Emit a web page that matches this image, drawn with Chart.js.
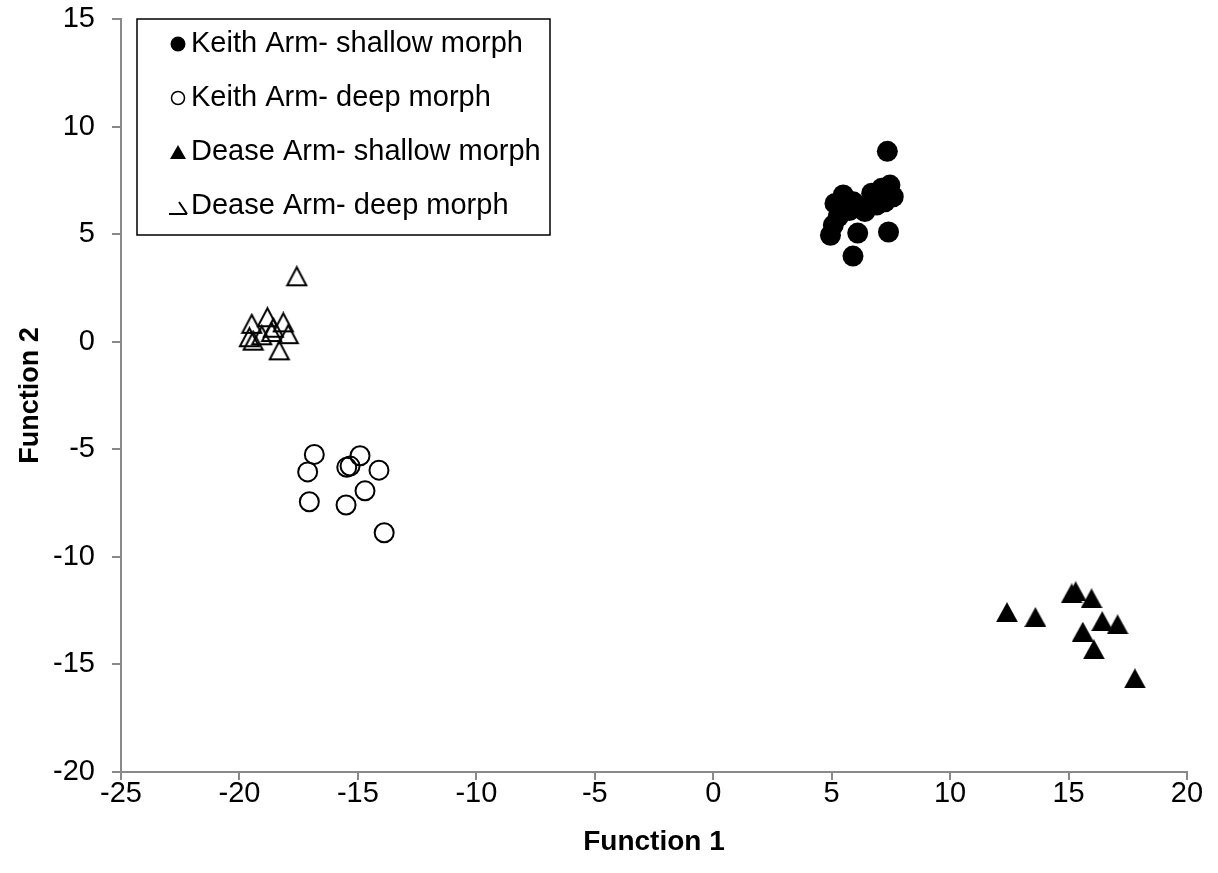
<!DOCTYPE html>
<html>
<head>
<meta charset="utf-8">
<script src="https://cdn.jsdelivr.net/npm/chart.js@4.4.1/dist/chart.umd.min.js"></script>
<style>
  html, body { margin: 0; padding: 0; background: #fff; }
  #wrap { width: 1218px; height: 873px; }
</style>
</head>
<body>
<div id="wrap"><canvas id="chart" width="1218" height="873"></canvas></div>
<script>
// discriminant scores, [function 1, function 2]
const keithShallow = [
  [4.95, 4.95], [5.07, 5.42], [5.14, 6.43], [5.28, 5.81], [5.4, 6.0], [5.49, 6.82],
  [5.63, 6.35], [5.75, 6.1], [5.91, 6.5], [5.9, 3.98], [6.1, 5.05], [6.19, 6.27],
  [6.4, 6.05], [6.61, 6.5], [6.69, 6.9], [6.9, 6.35], [7.11, 7.13], [7.25, 6.5],
  [7.46, 7.28], [7.6, 6.74], [7.35, 8.85], [7.4, 5.1]
];
const keithDeep = [
  [-16.84, -5.24], [-17.12, -6.05], [-14.91, -5.3], [-15.33, -5.78], [-15.47, -5.84],
  [-14.11, -5.97], [-14.7, -6.93], [-17.05, -7.44], [-15.5, -7.59], [-13.89, -8.88]
];
const deaseShallow = [
  [12.4, -12.57], [13.6, -12.8], [15.13, -11.7], [15.3, -11.6], [15.97, -11.93],
  [16.42, -12.99], [17.07, -13.14], [15.6, -13.48], [16.07, -14.3], [17.8, -15.65]
];
const deaseDeep = [
  [-17.58, 3.04], [-19.48, 0.83], [-18.82, 1.14], [-18.15, 0.9], [-19.58, 0.21],
  [-19.42, 0.05], [-19.06, 0.3], [-18.64, 0.45], [-18.57, 0.65], [-17.94, 0.35],
  [-18.32, -0.4]
];
const seriesNames = [
  'Keith Arm- shallow morph',
  'Keith Arm- deep morph',
  'Dease Arm- shallow morph',
  'Dease Arm- deep morph'
];
const xRange = [-25, 20];
const yRange = [-20, 15];
const tickStep = 5;

const FONT = '"Liberation Sans", Arial, sans-serif';
const AXIS_GREY = '#898989';

// triangle drawn centred on its bounding box
function triangleMarker(w, h, filled, lw) {
  const pad = Math.ceil(lw || 0);
  const c = document.createElement('canvas');
  c.width = w + pad * 2;
  c.height = h + pad * 2;
  const g = c.getContext('2d');
  g.beginPath();
  g.moveTo(c.width / 2, pad);
  g.lineTo(c.width - pad, pad + h);
  g.lineTo(pad, pad + h);
  g.closePath();
  if (filled) {
    g.fillStyle = '#000';
    g.fill();
  } else {
    g.lineWidth = lw;
    g.strokeStyle = '#000';
    g.stroke();
  }
  return c;
}

const toXY = arr => arr.map(p => ({ x: p[0], y: p[1] }));

// boxed legend in the top-left corner of the plot
const boxLegend = {
  id: 'boxLegend',
  afterDatasetsDraw(chart) {
    const ctx = chart.ctx;
    const left = 137, top = 19, bottom = 235;
    const rows = [44, 98, 152, 206];
    const markX = 178, textX = 191;
    ctx.save();
    ctx.font = '29px ' + FONT;
    let maxW = 0;
    seriesNames.forEach(n => { maxW = Math.max(maxW, ctx.measureText(n).width); });
    const right = Math.round(textX + maxW + 9);
    ctx.fillStyle = '#fff';
    ctx.fillRect(left, top, right - left, bottom - top);
    ctx.strokeStyle = '#000';
    ctx.lineWidth = 1.5;
    ctx.strokeRect(left, top, right - left, bottom - top);

    // markers
    ctx.fillStyle = '#000';
    ctx.beginPath();
    ctx.arc(markX, rows[0], 7.5, 0, Math.PI * 2);
    ctx.fill();
    ctx.lineWidth = 1.5;
    ctx.beginPath();
    ctx.arc(markX, rows[1], 6.5, 0, Math.PI * 2);
    ctx.stroke();
    const tri = triangleMarker(16, 14, true);
    ctx.drawImage(tri, markX - tri.width / 2, rows[2] - tri.height / 2);
    // the open-triangle key renders as a clipped glyph
    ctx.lineWidth = 2;
    ctx.beginPath();
    ctx.moveTo(169, rows[3] + 8);
    ctx.lineTo(187, rows[3] + 8);
    ctx.moveTo(179, rows[3] - 4);
    ctx.lineTo(187, rows[3] + 8);
    ctx.stroke();

    ctx.fillStyle = '#000';
    ctx.textBaseline = 'middle';
    ctx.textAlign = 'left';
    seriesNames.forEach((n, i) => ctx.fillText(n, textX, rows[i]));
    ctx.restore();
  }
};

const ctx = document.getElementById('chart').getContext('2d');
new Chart(ctx, {
  type: 'scatter',
  data: {
    datasets: [
      { label: seriesNames[0], data: toXY(keithShallow), pointStyle: 'circle', pointRadius: 10.5,
        backgroundColor: '#000', borderColor: '#000', borderWidth: 0 },
      { label: seriesNames[1], data: toXY(keithDeep), pointStyle: 'circle', pointRadius: 9.5,
        backgroundColor: 'rgba(0,0,0,0)', borderColor: '#000', borderWidth: 2 },
      { label: seriesNames[2], data: toXY(deaseShallow), pointStyle: triangleMarker(22, 20, true),
        pointRadius: 11, backgroundColor: '#000', borderColor: '#000' },
      { label: seriesNames[3], data: toXY(deaseDeep), pointStyle: triangleMarker(19, 18, false, 2),
        pointRadius: 10, backgroundColor: 'rgba(0,0,0,0)', borderColor: '#000' }
    ]
  },
  options: {
    responsive: false,
    animation: false,
    layout: { padding: { top: 19, right: 31, left: 0, bottom: 0 } },
    plugins: { legend: { display: false }, tooltip: { enabled: false } },
    scales: {
      x: {
        type: 'linear', min: xRange[0], max: xRange[1],
        ticks: { stepSize: tickStep, color: '#000', font: { family: FONT, size: 29, lineHeight: 1 },
          padding: -1, maxRotation: 0 },
        grid: { drawOnChartArea: false, drawTicks: true, tickLength: 8, color: AXIS_GREY, lineWidth: 2 },
        border: { display: true, color: AXIS_GREY, width: 2 },
        title: { display: true, text: 'Function 1', color: '#000',
          font: { family: FONT, size: 28, weight: 'bold' }, padding: { top: 0, bottom: 14 } },
        afterFit(scale) {
          scale.height = 101;
          scale.paddingLeft = 0;
          scale.paddingRight = 0;
        }
      },
      y: {
        type: 'linear', min: yRange[0], max: yRange[1],
        ticks: { stepSize: tickStep, color: '#000', font: { family: FONT, size: 29 }, padding: 17 },
        grid: { drawOnChartArea: false, drawTicks: true, tickLength: 9, color: AXIS_GREY, lineWidth: 2 },
        border: { display: true, color: AXIS_GREY, width: 2 },
        title: { display: true, text: 'Function 2', color: '#000',
          font: { family: FONT, size: 27, weight: 'bold' }, padding: { top: 14, bottom: 0 } },
        afterFit(scale) {
          scale.width = 121;
          scale.paddingTop = 0;
          scale.paddingBottom = 0;
        }
      }
    }
  },
  plugins: [boxLegend]
});
</script>
</body>
</html>
